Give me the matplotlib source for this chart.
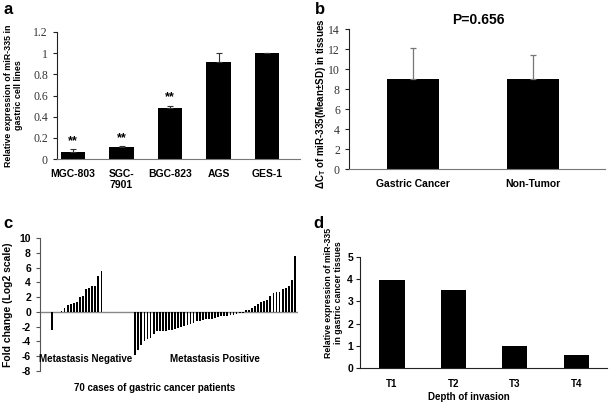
#!/usr/bin/env python3
# Four-panel figure: miR-335 expression in gastric cell lines / tissues.

import matplotlib
matplotlib.use('Agg')
import matplotlib.pyplot as plt

# panel a: cell lines
cell_lines = ['MGC-803', 'SGC-\n7901', 'BGC-823', 'AGS', 'GES-1']
cell_expr = [0.07, 0.11, 0.48, 0.92, 1.0]
cell_err = [0.02, 0.01, 0.02, 0.085, 0.0]
cell_marks = ['**', '**', '**', '', '']

# panel b: tissues
tissue_groups = ['Gastric Cancer', 'Non-Tumor']
tissue_dct = [9.0, 9.0]
tissue_sd = [3.1, 2.4]

# panel c: fold change per patient (70 cases)
neg_fold = [-2.4, 0.0, 0.0, 0.14, 0.5, 1.0, 1.13, 1.27, 1.4, 2.0, 2.1,
            3.1, 3.3, 3.5, 3.45, 4.85, 5.6]
pos_fold = [-5.8, -5.1, -4.5, -4.0, -3.7, -3.5, -3.0, -2.6, -2.6, -2.6,
            -2.6, -2.5, -2.4, -2.3, -2.2, -2.0, -1.9, -1.8, -1.7, -1.5,
            -1.3, -1.2, -1.1, -1.0, -1.0, -0.9, -0.8, -0.7, -0.6, -0.5,
            -0.5, -0.4, -0.4, -0.3, -0.2, -0.1,
            0.2, 0.3, 0.5, 0.8, 1.1, 1.3, 1.5, 1.6, 2.1, 2.6, 2.7, 2.7,
            3.1, 3.3, 3.5, 4.3, 7.5]

# panel d: depth of invasion
stages = ['T1', 'T2', 'T3', 'T4']
stage_expr = [3.95, 3.52, 0.98, 0.6]

SANS = 'Liberation Sans'
SERIF = 'Liberation Serif'

plt.rcParams['font.family'] = [SANS, 'DejaVu Sans']
plt.rcParams['font.weight'] = 'bold'
plt.rcParams['mathtext.fontset'] = 'custom'
plt.rcParams['mathtext.bf'] = 'Liberation Sans:bold'
plt.rcParams['mathtext.rm'] = 'Liberation Sans:bold'
plt.rcParams['mathtext.it'] = 'Liberation Sans:bold'

W, H = 609, 405
fig = plt.figure(figsize=(W / 100, H / 100), dpi=100)


def rect(left, top, right, bottom):
    return [left / W, 1 - bottom / H, (right - left) / W, (bottom - top) / H]


def style(ax, left_color='#222222', bottom_color='#777777'):
    for s in ('top', 'right'):
        ax.spines[s].set_visible(False)
    ax.spines['left'].set_color(left_color)
    ax.spines['bottom'].set_color(bottom_color)
    ax.tick_params(axis='y', direction='out', length=3, width=0.8,
                   color=left_color)
    ax.tick_params(axis='x', length=0)


# ---- a ----
ax = fig.add_axes(rect(57, 32, 300, 159))
style(ax)
xa = range(len(cell_lines))
ax.bar(xa, cell_expr, width=0.5, color='black',
       yerr=[[0] * len(cell_err), cell_err],
       error_kw=dict(ecolor='#333333', capsize=2.5, elinewidth=0.8, capthick=0.8))
for i, m in enumerate(cell_marks):
    if m:
        ax.text(i, cell_expr[i] + cell_err[i] + 0.08, m, ha='center',
                va='center', fontsize=9, fontweight='bold')
ax.set_xlim(-0.33, 4.68)
ax.set_ylim(0, 1.2)
ax.set_yticks([0, 0.2, 0.4, 0.6, 0.8, 1.0, 1.2])
ax.set_yticklabels(['0', '0.2', '0.4', '0.6', '0.8', '1', '1.2'],
                   family=SERIF, fontweight='normal', fontsize=8.5, color='#333333')
ax.set_xticks(list(xa))
ax.set_xticklabels(cell_lines, fontsize=7.5, fontweight='bold', va='top')
ax.tick_params(axis='x', pad=7)
ax.set_ylabel('Relative expression of miR-335 in\ngastric cell lines',
              fontsize=6.4, fontweight='bold', linespacing=1.1)
ax.yaxis.set_label_coords(-0.14, 0.5)

# ---- b ----
ax = fig.add_axes(rect(349, 29, 605, 169))
style(ax)
xb = range(len(tissue_groups))
ax.bar(xb, tissue_dct, width=0.43, color='black',
       yerr=[[0] * len(tissue_sd), tissue_sd],
       error_kw=dict(ecolor='#777777', capsize=2.5, elinewidth=0.9, capthick=0.9))
ax.set_xlim(-0.53, 1.6)
ax.set_ylim(0, 14)
ax.set_yticks(range(0, 15, 2))
ax.set_yticklabels([str(v) for v in range(0, 15, 2)],
                   family=SERIF, fontweight='normal', fontsize=8.5, color='#333333')
ax.set_xticks(list(xb))
ax.set_xticklabels(tissue_groups, fontsize=7.5, fontweight='bold')
ax.tick_params(axis='x', pad=7)
ax.set_ylabel(r'$\Delta$C$_T$ of miR-335(Mean±SD) in tissues',
              fontsize=7, fontweight='bold')
ax.yaxis.set_label_coords(-0.082, 0.47)
ax.text(0.504, 1.064, 'P=0.656', transform=ax.transAxes, ha='center',
        va='center', fontsize=10, fontweight='bold')

# ---- c ----
ax = fig.add_axes(rect(40, 238, 298, 371))
for s in ('top', 'right', 'bottom'):
    ax.spines[s].set_visible(False)
ax.spines['left'].set_color('#555555')
ax.tick_params(axis='y', direction='out', length=3, width=0.8, color='#555555')
neg_x = list(range(4, 4 + len(neg_fold)))
pos_x = list(range(31, 31 + len(pos_fold)))
ax.axhline(0, color='#888888', lw=1.0, zorder=1)
ax.bar(neg_x, neg_fold, width=0.6, color='black', zorder=2)
ax.bar(pos_x, pos_fold, width=0.6, color='black', zorder=2)
ax.set_xlim(0, 84)
ax.set_ylim(-8, 10)
ax.set_yticks(range(-8, 11, 2))
ax.set_yticklabels([str(v) for v in range(-8, 11, 2)], fontsize=7.5,
                   fontweight='bold')
ax.set_xticks([])
ax.text(15, -6.4, 'Metastasis Negative', ha='center', va='center',
        fontsize=7, fontweight='bold')
ax.text(57, -6.4, 'Metastasis Positive', ha='center', va='center',
        fontsize=7, fontweight='bold')
ax.set_xlabel('70 cases of gastric cancer patients', fontsize=7,
              fontweight='bold')
ax.xaxis.set_label_coords(0.446, -0.09)
ax.set_ylabel('Fold change (Log2 scale)', fontsize=7.5, fontweight='bold')
ax.yaxis.set_label_coords(-0.105, 0.5)

# ---- d ----
ax = fig.add_axes(rect(360, 257, 607, 368))
style(ax, left_color='#222222', bottom_color='#222222')
ax.tick_params(axis='y', pad=2)
xd = range(len(stages))
ax.bar(xd, stage_expr, width=0.41, color='black')
ax.set_xlim(-0.52, 3.5)
ax.set_ylim(0, 5)
ax.set_yticks(range(0, 6))
ax.set_yticklabels([str(v) for v in range(0, 6)], fontsize=7.5,
                   fontweight='bold')
ax.set_xticks(list(xd))
ax.set_xticklabels(stages, fontsize=7, fontweight='bold')
ax.tick_params(axis='x', pad=8)
ax.set_xlabel('Depth of invasion', fontsize=7, fontweight='bold')
ax.xaxis.set_label_coords(0.44, -0.216)
ax.set_ylabel('Relative expression of miR-335\nin gastric cancer tissues',
              fontsize=6.3, fontweight='bold', linespacing=1.1)
ax.yaxis.set_label_coords(-0.069, 0.676)

# panel letters
for letter, px, py in [('a', 3, 10), ('b', 315, 10), ('c', 3, 224), ('d', 313, 224)]:
    fig.text(px / W, 1 - py / H, letter, fontsize=12, fontweight='bold',
             ha='left', va='center')

fig.savefig('out.png', dpi=100)
